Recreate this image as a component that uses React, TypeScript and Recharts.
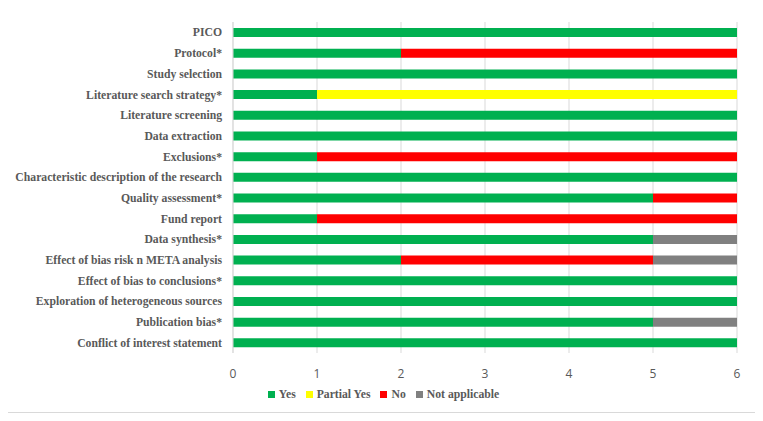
import React from 'react';
import { BarChart, Bar, XAxis, YAxis, CartesianGrid, Legend } from 'recharts';

const categories = [
  'PICO',
  'Protocol*',
  'Study selection',
  'Literature search strategy*',
  'Literature screening',
  'Data extraction',
  'Exclusions*',
  'Characteristic description of the research',
  'Quality assessment*',
  'Fund report',
  'Data synthesis*',
  'Effect of bias risk n META analysis',
  'Effect of bias to conclusions*',
  'Exploration of heterogeneous sources',
  'Publication bias*',
  'Conflict of interest statement',
];
const yesValues = [6, 2, 6, 1, 6, 6, 1, 6, 5, 1, 5, 2, 6, 6, 5, 6];
const partialValues = [0, 0, 0, 5, 0, 0, 0, 0, 0, 0, 0, 0, 0, 0, 0, 0];
const noValues = [0, 4, 0, 0, 0, 0, 5, 0, 1, 5, 0, 3, 0, 0, 0, 0];
const naValues = [0, 0, 0, 0, 0, 0, 0, 0, 0, 0, 1, 1, 0, 0, 1, 0];
const xTicks = [0, 1, 2, 3, 4, 5, 6];

const data = categories.map((name, i) => ({
  name,
  yes: yesValues[i],
  partial: partialValues[i],
  no: noValues[i],
  na: naValues[i],
}));

const serif = '"Liberation Serif", "Times New Roman", serif';
const textColor = '#595959';

const CategoryTick = (props: any) => {
  const { x, y, payload } = props;
  return (
    <text
      x={x}
      y={y}
      dy="0.35em"
      textAnchor="end"
      fill={textColor}
      fontSize={11.7}
      fontWeight="bold"
      fontFamily={serif}
    >
      {payload.value}
    </text>
  );
};

export default function App() {
  return (
    <div
      style={{
        width: 747,
        height: 404,
        border: '1px solid #d9d9d9',
        marginLeft: -1,
        marginTop: -1,
        background: '#fff',
      }}
    >
      <BarChart
        width={747}
        height={404}
        data={data}
        layout="vertical"
        margin={{ top: 14, right: 18, left: 0, bottom: 7 }}
        barSize={9}
      >
        <CartesianGrid horizontal={false} stroke="#d9d9d9" />
        <XAxis
          type="number"
          domain={[0, 6]}
          ticks={xTicks}
          axisLine={false}
          tickLine={false}
          height={30}
          tickMargin={10}
          tick={{ fill: textColor, fontSize: 12, fontFamily: '"Open Sans", sans-serif' }}
        />
        <YAxis
          type="category"
          dataKey="name"
          width={225}
          axisLine={{ stroke: '#d9d9d9' }}
          tickLine={false}
          tickSize={0}
          tickMargin={11}
          interval={0}
          tick={<CategoryTick />}
        />
        <Legend
          verticalAlign="bottom"
          iconType="square"
          iconSize={7}
          itemSorter={null as any}
          wrapperStyle={{ lineHeight: '20px', left: 16 }}
          formatter={(value) => (
            <span style={{ color: textColor, fontFamily: serif, fontWeight: 'bold', fontSize: 11.7 }}>{value}</span>
          )}
        />
        <Bar dataKey="yes" name="Yes" stackId="a" fill="#00B050" isAnimationActive={false} />
        <Bar dataKey="partial" name="Partial Yes" stackId="a" fill="#FFFF00" isAnimationActive={false} />
        <Bar dataKey="no" name="No" stackId="a" fill="#FF0000" isAnimationActive={false} />
        <Bar dataKey="na" name="Not applicable" stackId="a" fill="#808080" isAnimationActive={false} />
      </BarChart>
    </div>
  );
}
